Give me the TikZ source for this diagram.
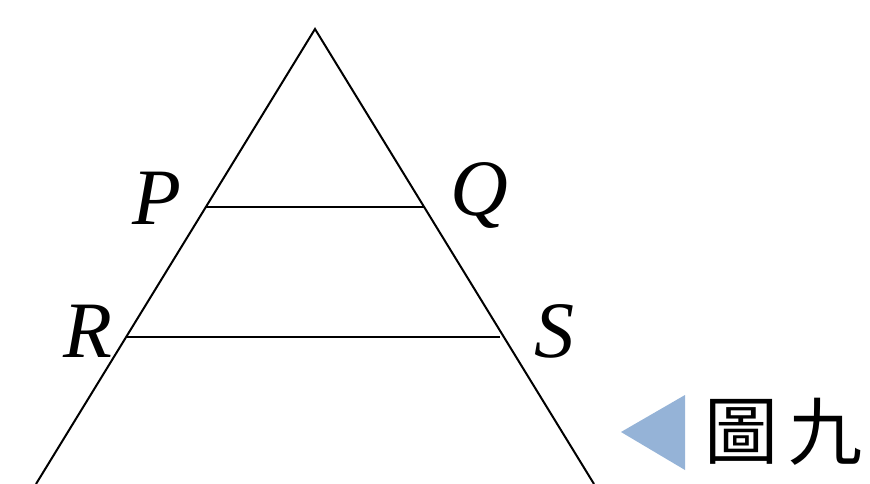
\documentclass[tikz,border=0pt]{standalone}
\usepackage{fontspec}
\setmainfont{Liberation Serif}
\newfontfamily\cjk{Noto Sans CJK TC}
\definecolor{mkblue}{HTML}{95B3D7}
\begin{document}
\begin{tikzpicture}[x=1pt,y=-1pt,
  edge/.style={line width=2pt,black},
  lbl/.style={font=\fontsize{80}{80}\selectfont\itshape,inner sep=0pt},
  cjkl/.style={inner sep=0pt,font=\cjk\fontsize{74}{74}\selectfont}]
\useasboundingbox (0,0) rectangle (870,483);
\clip (0,0) rectangle (870,483);
\coordinate (A) at (315,29);
\coordinate (BL) at (36,484);
\coordinate (BR) at (594,484);
\draw[edge,line join=miter] (BL) -- (A) -- (BR);
\coordinate (P) at (205,207);
\coordinate (Q) at (424,207);
\coordinate (R) at (127,337);
\coordinate (S) at (500,337);
\draw[edge] (P) -- (Q);
\draw[edge] (R) -- (S);
\node[lbl] (lP) at (157,198) {P};
\node[lbl] (lQ) at (479,195) {Q};
\node[lbl] (lR) at (88,331) {R};
\node[lbl] (lS) at (554,331) {S};
\fill[mkblue] (685,395) -- (621,432) -- (685,470) -- cycle;
\node[cjkl] (c1) at (741,432) {圖};
\node[cjkl] (c2) at (825,432) {九};
\end{tikzpicture}
\end{document}
